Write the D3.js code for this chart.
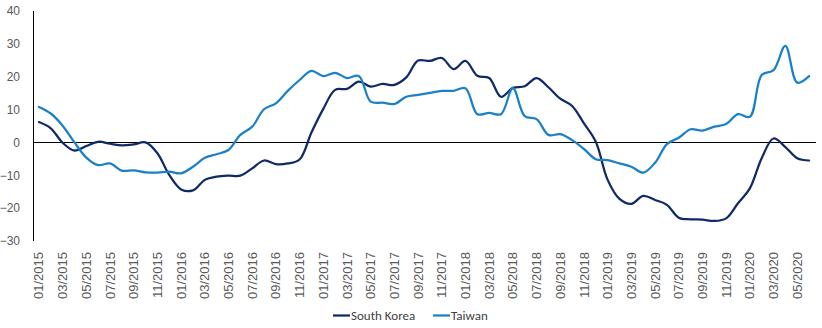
<!DOCTYPE html>
<html>
<head>
<meta charset="utf-8">
<script src="https://cdn.jsdelivr.net/npm/d3@7"></script>
<style>
  html, body { margin: 0; padding: 0; background: #fff; }
  svg { display: block; font-family: Calibri, Carlito, Lato, "Open Sans", sans-serif; }
</style>
</head>
<body>
<svg id="chart" width="822" height="328"></svg>
<script>
const months = [
  "01/2015","02/2015","03/2015","04/2015","05/2015","06/2015","07/2015","08/2015","09/2015","10/2015","11/2015","12/2015",
  "01/2016","02/2016","03/2016","04/2016","05/2016","06/2016","07/2016","08/2016","09/2016","10/2016","11/2016","12/2016",
  "01/2017","02/2017","03/2017","04/2017","05/2017","06/2017","07/2017","08/2017","09/2017","10/2017","11/2017","12/2017",
  "01/2018","02/2018","03/2018","04/2018","05/2018","06/2018","07/2018","08/2018","09/2018","10/2018","11/2018","12/2018",
  "01/2019","02/2019","03/2019","04/2019","05/2019","06/2019","07/2019","08/2019","09/2019","10/2019","11/2019","12/2019",
  "01/2020","02/2020","03/2020","04/2020","05/2020","06/2020"
];

const southKorea = [
  6.2, 4.3, -0.1, -2.5, -1.1, 0.2, -0.4, -0.9, -0.6, 0.0, -3.3, -9.9,
  -14.3, -14.6, -11.4, -10.4, -10.1, -10.1, -7.9, -5.5, -6.6, -6.4, -5.2, 3.0,
  10.2, 16.0, 16.3, 18.5, 17.0, 17.8, 17.5, 19.8, 24.9, 24.8, 25.7, 22.3,
  24.8, 20.3, 19.6, 13.9, 16.6, 17.1, 19.6, 16.8, 13.3, 11.1, 5.8, 0.2,
  -11.4, -17.2, -18.7, -16.3, -17.5, -19.0, -22.9, -23.4, -23.5, -23.9, -23.1, -18.5,
  -14.0, -4.8, 1.2, -1.4, -4.8, -5.5
];

const taiwan = [
  10.8, 8.8, 5.1, 0.0, -4.6, -6.9, -6.4, -8.6, -8.5, -9.1, -9.2, -8.9,
  -9.4, -7.4, -4.7, -3.6, -2.3, 2.3, 4.8, 10.1, 11.9, 15.7, 19.0, 21.8,
  20.2, 21.2, 19.6, 20.2, 12.4, 12.1, 11.7, 13.9, 14.5, 15.1, 15.7, 15.7,
  16.5, 8.6, 9.0, 8.6, 16.5, 8.0, 7.1, 2.3, 2.5, 0.7, -2.0, -5.1,
  -5.4, -6.4, -7.4, -9.2, -6.2, -0.5, 1.4, 4.0, 3.6, 4.8, 5.6, 8.6,
  7.8, 20.5, 22.0, 29.4, 18.2, 20.2
];

const yTicks = [40, 30, 20, 10, 0, -10, -20, -30];

const series = [
  { name: "South Korea", values: southKorea, color: "#0f2a66" },
  { name: "Taiwan", values: taiwan, color: "#1a80c8" }
];

const svg = d3.select("#chart");
const plotLeft = 33, plotRight = 815, plotTop = 11, plotBottom = 241;

const x = d3.scaleBand().domain(months).range([plotLeft, plotRight]).paddingInner(0).paddingOuter(0);
const y = d3.scaleLinear().domain([-30, 40]).range([plotBottom, plotTop]);

// Y axis labels
const yAxis = d3.axisLeft(y).tickValues(yTicks).tickSize(0).tickPadding(13).tickFormat(d3.format("d"));
const gy = svg.append("g").attr("transform", `translate(${plotLeft},0)`).call(yAxis);
gy.select(".domain").remove();
gy.selectAll("text").attr("fill", "#595959").style("font-size", "12px");

// vertical axis line
svg.append("line")
  .attr("x1", plotLeft + 0.5).attr("x2", plotLeft + 0.5)
  .attr("y1", y(40)).attr("y2", y(-30))
  .attr("stroke", "#000").attr("stroke-width", 1);

// zero line
svg.append("line")
  .attr("x1", plotLeft).attr("x2", plotRight + 1)
  .attr("y1", Math.round(y(0)) + 0.5).attr("y2", Math.round(y(0)) + 0.5)
  .attr("stroke", "#000").attr("stroke-width", 1);

// X labels (every two months), rotated
const xLabels = months.filter((d, i) => i % 2 === 0);
const xAxis = d3.axisBottom(x).tickValues(xLabels).tickSize(0).tickPadding(0);
const gx = svg.append("g").attr("transform", `translate(0,${plotBottom})`).call(xAxis);
gx.select(".domain").remove();
gx.selectAll("text")
  .attr("fill", "#595959")
  .style("font-size", "13px")
  .attr("text-anchor", "end")
  .attr("dy", "0.35em")
  .attr("transform", "translate(0,11) rotate(-90)")
  .attr("x", 0).attr("y", 0);

// Lines
const line = d3.line()
  .x((d, i) => x(months[i]) + x.bandwidth() / 2)
  .y(d => y(d))
  .curve(d3.curveCatmullRom.alpha(0.5));

svg.append("g").selectAll("path")
  .data(series)
  .join("path")
  .attr("d", d => line(d.values))
  .attr("fill", "none")
  .attr("stroke", d => d.color)
  .attr("stroke-width", 2.25)
  .attr("stroke-linejoin", "round")
  .attr("stroke-linecap", "round");

// Legend
const legendItems = [
  { s: series[0], x0: 333 },
  { s: series[1], x0: 433 }
];
const lg = svg.append("g");
legendItems.forEach(it => {
  lg.append("line")
    .attr("x1", it.x0).attr("x2", it.x0 + 17)
    .attr("y1", 315.5).attr("y2", 315.5)
    .attr("stroke", it.s.color).attr("stroke-width", 2.25);
  lg.append("text")
    .attr("x", it.x0 + 18).attr("y", 315.5)
    .attr("dy", "0.35em")
    .attr("fill", "#404040")
    .style("font-size", "13px")
    .text(it.s.name);
});
</script>
</body>
</html>
